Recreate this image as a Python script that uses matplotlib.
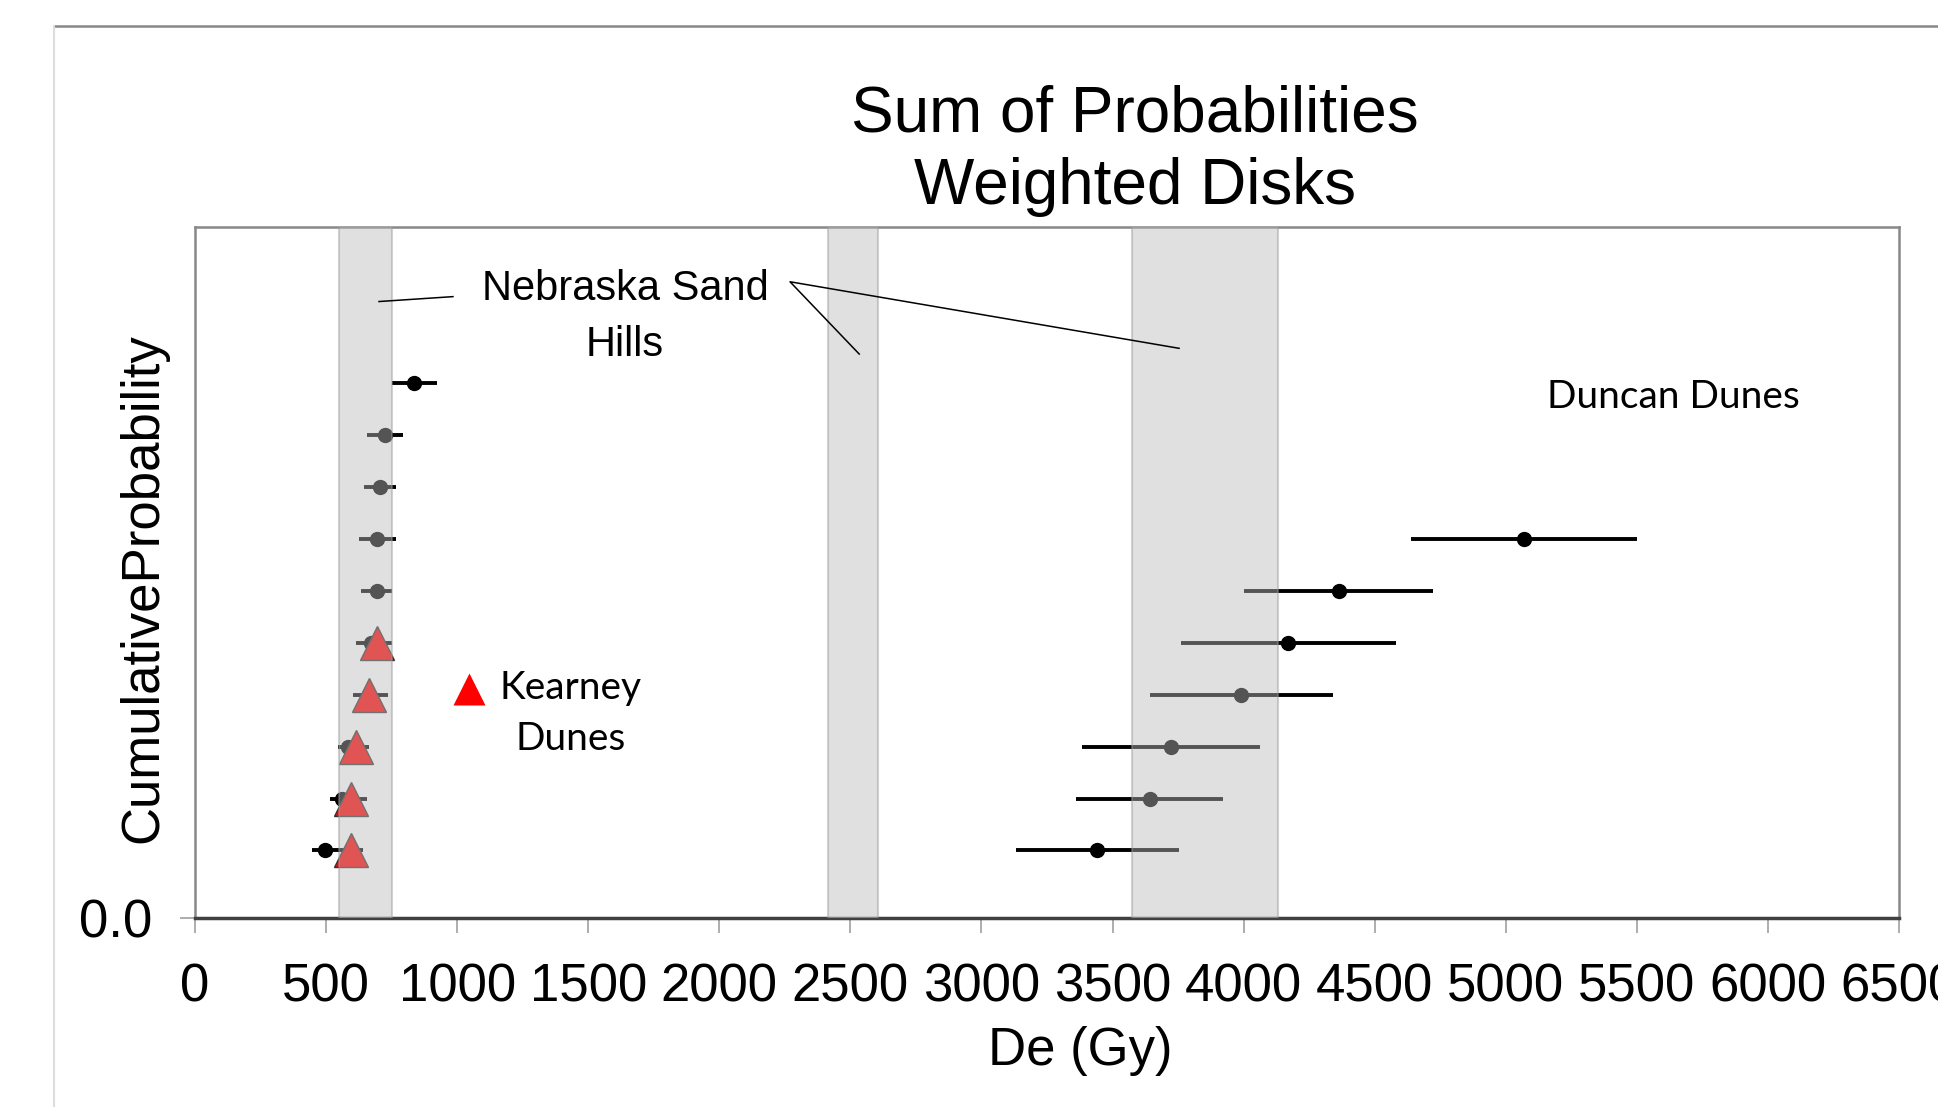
import numpy as np
import matplotlib.pyplot as plt
from matplotlib.lines import Line2D

plt.rcParams['font.family'] = ['Liberation Sans', 'DejaVu Sans']

# Nebraska Sand Hills (circles), ranked bottom to top
neb_rank = np.arange(1, 11)
neb_de = [496, 559, 585, 665, 670, 693, 693, 704, 725, 835]
neb_err_lo = [51, 44, 38, 61, 56, 59, 69, 59, 70, 85]
neb_err_hi = [146, 96, 79, 70, 83, 60, 72, 61, 70, 89]

# Kearney Dunes (triangles)
kea_rank = np.arange(1, 6)
kea_de = [594, 594, 613, 664, 693]

# Duncan Dunes
dun_rank = np.arange(1, 8)
dun_de = [3442, 3641, 3722, 3991, 4171, 4362, 5070]
dun_err = [310, 280, 340, 350, 410, 360, 430]

# shaded De ranges
bands = [(550, 750), (2415, 2605), (3575, 4130)]

xticks = np.arange(0, 6501, 500)

off = 0.3  # rows sit a bit above the zero line

fig = plt.figure(figsize=(19.38, 11.07), dpi=100)
ax = fig.add_axes([0.1006, 0.1707, 0.8793, 0.6242])

ax.errorbar(neb_de, neb_rank + off, xerr=[neb_err_lo, neb_err_hi], fmt='o',
            color='black', ms=10, elinewidth=2.8, capsize=0, zorder=2)
ax.plot(kea_de, kea_rank + off, '^', color='red', ms=24, mec='#333333',
        mew=1, zorder=2.5)
ax.errorbar(dun_de, dun_rank + off, xerr=dun_err, fmt='o', color='black',
            ms=10, elinewidth=2.8, capsize=0, zorder=2)

# semi transparent bands drawn over the points
for lo, hi in bands:
    ax.axvspan(lo, hi, facecolor='#bbbbbb', alpha=0.45, edgecolor='#999999',
               lw=1.5, zorder=3)

ax.set_xlim(0, 6500)
ax.set_ylim(0, 13.3)
ax.set_xticks(xticks)
ax.set_xticklabels([str(t) for t in xticks])
ax.set_yticks([0])
ax.set_yticklabels(['0.0'])
ax.tick_params(axis='both', labelsize=38, length=11, width=1.2,
               color='#a0a0a0', direction='out')
ax.tick_params(axis='x', pad=21)
ax.tick_params(axis='y', pad=20)

for s in ['top', 'right', 'left']:
    ax.spines[s].set_color('#888888')
    ax.spines[s].set_linewidth(1.8)
ax.spines['bottom'].set_color('#404040')
ax.spines['bottom'].set_linewidth(2.5)

ax.set_xlabel('De (Gy)', fontsize=38)
ax.xaxis.set_label_coords(0.5194, -0.1566)
ax.set_ylabel('CumulativeProbability', fontsize=38)
ax.yaxis.set_label_coords(-0.0158, 0.477)

# annotations
ax.text(0.2523, 0.8700, 'Nebraska Sand\nHills', transform=ax.transAxes,
        ha='center', va='center', fontsize=30, linespacing=1.5, zorder=5)
ax.plot([0.1080, 0.1514], [0.8922, 0.8993], transform=ax.transAxes,
        color='black', lw=1.1, zorder=4, clip_on=False)
ax.plot([0.3898, 0.3492, 0.5775], [0.8162, 0.9208, 0.8245],
        transform=ax.transAxes, color='black', lw=1.1, zorder=4, clip_on=False)

ax.plot([0.1608], [0.3314], '^', color='red', ms=23, mec='none',
        transform=ax.transAxes, zorder=5)
ax.text(0.2205, 0.296, 'Kearney\nDunes', transform=ax.transAxes,
        ha='center', va='center', fontsize=28, family=['Lato', 'DejaVu Sans'],
        linespacing=1.55, zorder=5)
ax.text(0.8674, 0.754, 'Duncan Dunes', transform=ax.transAxes,
        ha='center', va='center', fontsize=28, family=['Lato', 'DejaVu Sans'],
        zorder=5)

# title
fig.text(0.5857, 0.897, 'Sum of Probabilities', ha='center', va='center',
         fontsize=46)
fig.text(0.5857, 0.831, 'Weighted Disks', ha='center', va='center',
         fontsize=46)

# outer chart frame
fx, fy = 54 / 1938, 1 - 26 / 1107
fig.add_artist(Line2D([fx, 1.0], [fy, fy], transform=fig.transFigure,
                      color='#888888', lw=1.8))
fig.add_artist(Line2D([fx, fx], [0, fy], transform=fig.transFigure,
                      color='#dddddd', lw=1.5))

fig.savefig('out.png', dpi=100)
